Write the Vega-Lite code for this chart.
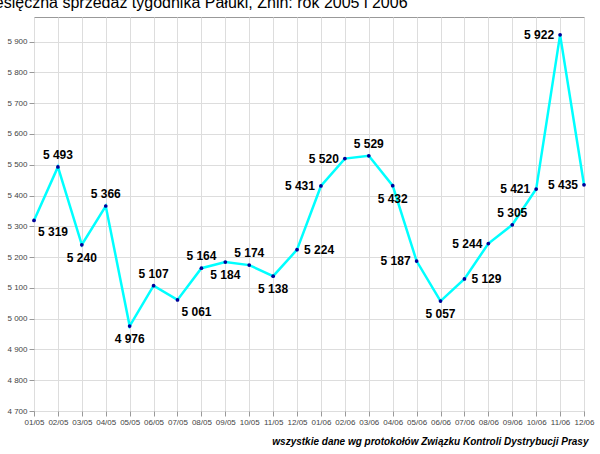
{
  "$schema": "https://vega.github.io/schema/vega-lite/v6.json",
  "width": 550,
  "height": 394,
  "autosize": {"type": "none"},
  "padding": {"left": 34, "top": 17, "right": 16, "bottom": 43},
  "background": "white",
  "config": {
    "locale": {"number": {"decimal": ",", "thousands": " ", "grouping": [3], "currency": ["", " zł"]}},
    "font": "Liberation Sans",
    "view": {"stroke": "#999999"}
  },
  "title": {"text": "miesięczna sprzedaż tygodnika Pałuki, Żnin: rok 2005 i 2006", "anchor": "start", "dx": -29, "dy": 10, "offset": 0, "fontSize": 16, "fontWeight": "normal", "color": "black", "baseline": "bottom"},
  "data": {"values": [
    {"m": "01/05", "v": 5319, "side": "belowright"},
    {"m": "02/05", "v": 5493, "side": "above"},
    {"m": "03/05", "v": 5240, "side": "below"},
    {"m": "04/05", "v": 5366, "side": "above"},
    {"m": "05/05", "v": 4976, "side": "below"},
    {"m": "06/05", "v": 5107, "side": "above"},
    {"m": "07/05", "v": 5061, "side": "belowright"},
    {"m": "08/05", "v": 5164, "side": "above"},
    {"m": "09/05", "v": 5184, "side": "below"},
    {"m": "10/05", "v": 5174, "side": "above"},
    {"m": "11/05", "v": 5138, "side": "below"},
    {"m": "12/05", "v": 5224, "side": "right"},
    {"m": "01/06", "v": 5431, "side": "left"},
    {"m": "02/06", "v": 5520, "side": "left"},
    {"m": "03/06", "v": 5529, "side": "above"},
    {"m": "04/06", "v": 5432, "side": "below"},
    {"m": "05/06", "v": 5187, "side": "left"},
    {"m": "06/06", "v": 5057, "side": "below"},
    {"m": "07/06", "v": 5129, "side": "right"},
    {"m": "08/06", "v": 5244, "side": "left"},
    {"m": "09/06", "v": 5305, "side": "above"},
    {"m": "10/06", "v": 5421, "side": "left"},
    {"m": "11/06", "v": 5922, "side": "left"},
    {"m": "12/06", "v": 5435, "side": "left"}
  ]},
  "encoding": {
    "x": {"field": "m", "type": "ordinal", "sort": null, "scale": {"type": "point", "padding": 0},
      "axis": {"labelAngle": 0, "labelFontSize": 8, "labelColor": "#444444", "grid": true, "gridColor": "#dddddd", "domain": false, "tickColor": "#999999",
        "title": "wszystkie dane wg protokołów Związku Kontroli Dystrybucji Prasy", "titleAnchor": "end", "titleFontStyle": "italic", "titleFontWeight": "bold", "titleFontSize": 10, "titlePadding": 10, "titleX": 554}},
    "y": {"field": "v", "type": "quantitative", "scale": {"domain": [4700, 5980], "nice": false, "zero": false},
      "axis": {"values": [4700, 4800, 4900, 5000, 5100, 5200, 5300, 5400, 5500, 5600, 5700, 5800, 5900], "format": ",d", "labelFontSize": 8, "labelColor": "#444444", "gridColor": "#dddddd", "domain": false, "tickColor": "#999999", "title": null}}
  },
  "layer": [
    {"mark": {"type": "line", "color": "#00ffff", "strokeWidth": 2.5}},
    {"mark": {"type": "point", "filled": true, "color": "#000099", "size": 14, "opacity": 1}},
    {"transform": [{"filter": "datum.side == 'above'"}], "mark": {"type": "text", "dy": -12, "fontSize": 12, "fontWeight": "bold"}, "encoding": {"text": {"field": "v", "format": ",d"}}},
    {"transform": [{"filter": "datum.side == 'below'"}], "mark": {"type": "text", "dy": 13, "fontSize": 12, "fontWeight": "bold"}, "encoding": {"text": {"field": "v", "format": ",d"}}},
    {"transform": [{"filter": "datum.side == 'belowright'"}], "mark": {"type": "text", "dy": 12, "dx": 4, "align": "left", "fontSize": 12, "fontWeight": "bold"}, "encoding": {"text": {"field": "v", "format": ",d"}}},
    {"transform": [{"filter": "datum.side == 'left'"}], "mark": {"type": "text", "dx": -6, "align": "right", "fontSize": 12, "fontWeight": "bold"}, "encoding": {"text": {"field": "v", "format": ",d"}}},
    {"transform": [{"filter": "datum.side == 'right'"}], "mark": {"type": "text", "dx": 7, "align": "left", "fontSize": 12, "fontWeight": "bold"}, "encoding": {"text": {"field": "v", "format": ",d"}}}
  ]
}
